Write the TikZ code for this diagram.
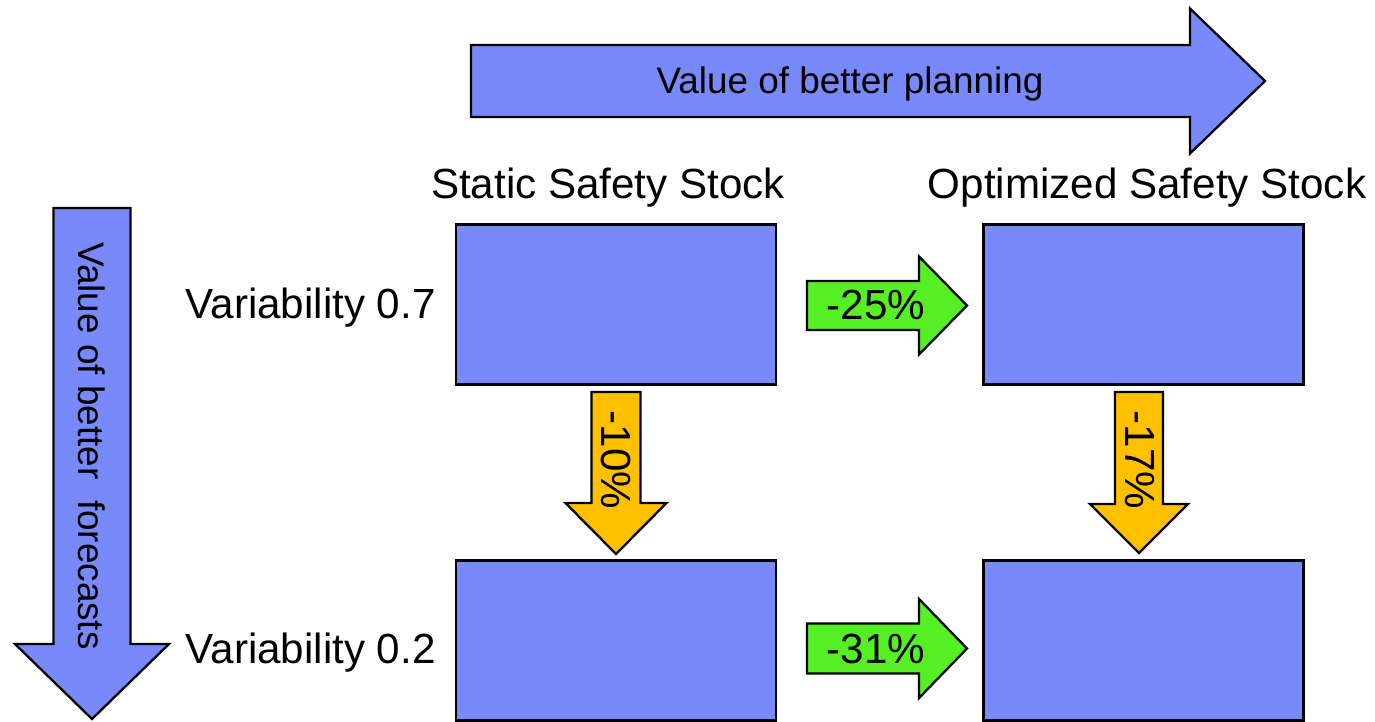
\documentclass[tikz,border=0pt]{standalone}
\usepackage{fontspec}
\setmainfont{Liberation Sans}
\usetikzlibrary{positioning}
\usetikzlibrary{calc}
\definecolor{boxblue}{RGB}{120,137,250}
\definecolor{gainlime}{RGB}{86,238,36}
\definecolor{gainamber}{RGB}{255,192,0}

% block arrow pointing right: style, x tail, x tip, y centre, half shaft, half head, head length
\newcommand{\rightblock}[7]{%
  \draw[#1] (#2,{#4-#5}) -- ({#3-#7},{#4-#5}) -- ({#3-#7},{#4-#6}) -- (#3,#4)
    -- ({#3-#7},{#4+#6}) -- ({#3-#7},{#4+#5}) -- (#2,{#4+#5}) -- cycle;}
% block arrow pointing down: style, y tail, y tip, x centre, half shaft, half head, head length
\newcommand{\downblock}[7]{%
  \draw[#1] ({#4-#5},#2) -- ({#4-#5},{#3-#7}) -- ({#4-#6},{#3-#7}) -- (#4,#3)
    -- ({#4+#6},{#3-#7}) -- ({#4+#5},{#3-#7}) -- ({#4+#5},#2) -- cycle;}

\tikzset{
  stockbox/.style={draw, line width=1.3pt, fill=boxblue, inner sep=0pt,
                   minimum width=6.4cm, minimum height=3.2cm},
  blockfill/.style={draw, line width=1.3pt, fill=#1, line join=miter},
  lab/.style={font=\fontsize{24}{28}\selectfont, inner sep=0pt},
  biglab/.style={font=\fontsize{21}{25}\selectfont, inner sep=0pt}
}

\begin{document}
\begin{tikzpicture}[x=0.02cm, y=-0.02cm]
\useasboundingbox (0,0) rectangle (1375,721);

%---------------------------------------
% Big arrows: planning and forecasts
%---------------------------------------
\rightblock{blockfill=boxblue}{471}{1265}{81}{36}{72.5}{75}
\node[biglab] (plan) at (850,84) {Value of better planning};

\downblock{blockfill=boxblue}{208}{719}{92}{38.5}{77}{75}
\node[biglab, rotate=-90] (fcst) at (92,446) {Value of better\ \ forecasts};

%---------------------------------------
% Headers and row labels
%---------------------------------------
\node[lab, anchor=base] (hstat) at (608,198) {Static Safety Stock};
\node[lab, anchor=base] (hopt) at (1147,198) {Optimized Safety Stock};
\node[lab, anchor=base east] (var07) at (436,318) {Variability 0.7};
\node[lab, anchor=base east] (var02) at (436,663) {Variability 0.2};

%---------------------------------------
% Safety stock boxes
%---------------------------------------
\node[stockbox] (stat07) at (616,304.5) {};
\node[stockbox] (opt07) at (1143.5,304.5) {};
\node[stockbox] (stat02) at (616,640.5) {};
\node[stockbox] (opt02) at (1143.5,640.5) {};

%---------------------------------------
% Reductions
%---------------------------------------
% planning (green)
\rightblock{blockfill=gainlime}{807}{967}{305.5}{24.5}{49}{48}
\node[lab] (g25) at (876,305) {-25\%};
\rightblock{blockfill=gainlime}{807}{967}{648.5}{25}{49.5}{48}
\node[lab] (g31) at (876,649) {-31\%};

% forecasts (amber)
\downblock{blockfill=gainamber}{392}{554}{616}{24.5}{50.5}{51}
\node[lab, rotate=-90] (o10) at (616,460) {-10\%};
\downblock{blockfill=gainamber}{392}{553}{1139}{24}{49}{49}
\node[lab, rotate=-90] (o17) at (1140,460) {-17\%};

\end{tikzpicture}
\end{document}
